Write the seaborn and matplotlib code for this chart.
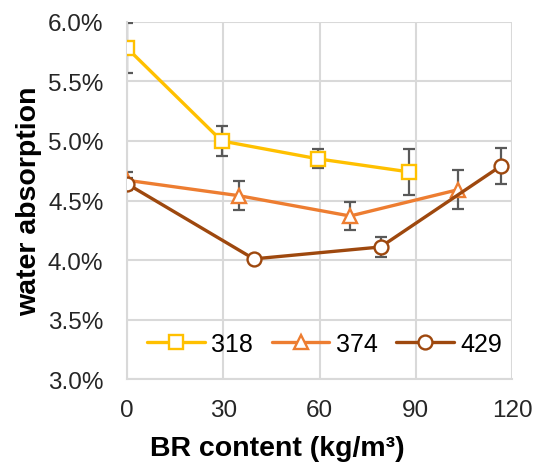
import pandas as pd
import numpy as np
import matplotlib
matplotlib.use("Agg")
import matplotlib.pyplot as plt
import seaborn as sns
from matplotlib.ticker import PercentFormatter

# series (x = BR content, y = water absorption in %)
x_318 = [0, 29.5, 59.5, 88]
y_318 = [5.78, 5.00, 4.85, 4.74]
e_318 = [0.21, 0.13, 0.08, 0.19]

x_374 = [0, 35, 69.5, 103]
y_374 = [4.67, 4.54, 4.37, 4.59]
e_374 = [0.07, 0.12, 0.115, 0.165]

x_429 = [0, 39.5, 79, 116.5]
y_429 = [4.64, 4.01, 4.11, 4.79]
e_429 = [0.05, 0.02, 0.08, 0.155]

labels = ["318", "374", "429"]
colors = ["#FFC000", "#ED7D31", "#9E480E"]
markers = ["s", "^", "o"]

sns.set_theme(style="white")
plt.rcParams['font.family'] = ['Liberation Sans', 'DejaVu Sans']

fig = plt.figure(figsize=(5.34, 4.77), dpi=100)
ax = fig.add_axes([0.238, 0.203, 0.721, 0.749])

series = [(x_318, y_318, e_318), (x_374, y_374, e_374), (x_429, y_429, e_429)]
for (xs, ys, es), lab, col, mk in zip(series, labels, colors, markers):
    df = pd.DataFrame({"BR": xs, "wa": ys})
    ax.errorbar(xs, ys, yerr=es, fmt="none", ecolor="#595959", elinewidth=1.6,
                capsize=4, capthick=1.6, zorder=2)
    sns.lineplot(data=df, x="BR", y="wa", ax=ax, color=col, linewidth=2.4,
                 marker=mk, markersize=10, markerfacecolor="white",
                 markeredgecolor=col, markeredgewidth=1.7, label=lab, zorder=3)

ax.set_xlim(0, 120)
ax.set_ylim(3.0, 6.0)
ax.set_xticks([0, 30, 60, 90, 120])
ax.set_yticks(np.arange(3.0, 6.01, 0.5))
ax.yaxis.set_major_formatter(PercentFormatter(decimals=1))
ax.grid(True, color="#D9D9D9", linewidth=1.5)
ax.set_axisbelow(True)
for s in ["top", "right"]:
    ax.spines[s].set_visible(False)
for s in ["left", "bottom"]:
    ax.spines[s].set_color("#D9D9D9")
    ax.spines[s].set_linewidth(1.5)
ax.tick_params(axis="both", labelsize=17.5, colors="#D9D9D9", labelcolor="#262626",
               length=6, width=1.5, direction="out")
ax.tick_params(axis="y", pad=11)
ax.tick_params(axis="x", pad=8)

ax.set_xlabel("BR content (kg/m³)", fontsize=20.5, fontweight="bold", color="black")
ax.set_ylabel("water absorption", fontsize=20.5, fontweight="bold", color="black")
ax.xaxis.set_label_coords(0.39, -0.155)
ax.yaxis.set_label_coords(-0.22, 0.5)

ax.legend(loc="center", bbox_to_anchor=(0.513, 0.098), ncol=3, frameon=False,
          fontsize=18, handlelength=2.3, columnspacing=0.75, handletextpad=0.25,
          labelcolor="black")

fig.savefig("out.png", dpi=100)
